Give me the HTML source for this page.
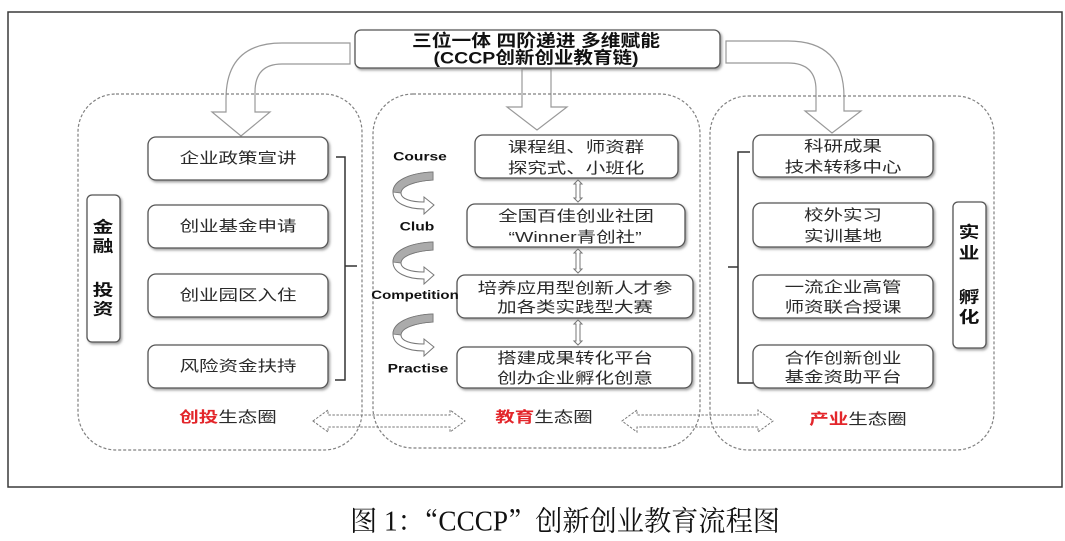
<!DOCTYPE html>
<html>
<head>
<meta charset="utf-8">
<style>
html,body{margin:0;padding:0;background:#fff;}
body{width:1065px;height:541px;overflow:hidden;}
svg{display:block;}
.t{font-family:"Liberation Sans","Noto Sans CJK SC",sans-serif;font-size:15px;fill:#2a2a2a;}
.b{font-family:"Liberation Sans","Noto Sans CJK SC",sans-serif;font-weight:700;fill:#111;}
.en{font-family:"Liberation Sans",sans-serif;font-weight:700;font-size:12px;fill:#111;}
</style>
</head>
<body>
<svg width="1065" height="541" viewBox="0 0 1065 541" xmlns="http://www.w3.org/2000/svg">
<defs>
<filter id="sh" x="-10%" y="-20%" width="130%" height="150%">
<feDropShadow dx="1.5" dy="1.8" stdDeviation="1.2" flood-color="#888" flood-opacity="0.8"/>
</filter>
</defs>

<!-- outer frame -->
<rect x="8" y="12" width="1054" height="475" fill="#fff" stroke="#3a3a3a" stroke-width="1.5"/>

<!-- big hollow arrows from top box -->
<g fill="#fff" stroke="#999" stroke-width="1.2">
<path d="M350,43 L282,43 Q226,43 226,99 L226,112 L212,112 L241,136 L270,112 L255,112 L255,92 Q255,64 282,64 L350,64 Z"/>
<path d="M726,41 L788,41 Q844,41 844,97 L844,111 L861,111 L832,133 L805,111 L816,111 L816,90 Q816,63 788,63 L726,63 Z"/>
<path d="M522,69 L522,107 L507,107 L537,130 L567,107 L551,107 L551,69 Z"/>
</g>

<!-- dashed panels -->
<g fill="none" stroke="#808080" stroke-width="1.2" stroke-dasharray="3,2">
<rect x="78" y="94" width="284" height="356" rx="38"/>
<rect x="373" y="94" width="327" height="354" rx="40"/>
<rect x="710" y="96" width="284" height="354" rx="38"/>
</g>

<!-- top box -->
<rect x="355" y="30" width="365" height="38" rx="6" fill="#fff" stroke="#555" stroke-width="1.3" filter="url(#sh)"/>
<text class="b" x="536" y="41" font-size="17" text-anchor="middle" dominant-baseline="central" textLength="248" lengthAdjust="spacingAndGlyphs">三位一体 四阶递进 多维赋能</text>
<text class="b" x="536" y="58" font-size="17" text-anchor="middle" dominant-baseline="central" textLength="205" lengthAdjust="spacingAndGlyphs">(CCCP创新创业教育链)</text>

<!-- left boxes -->
<g fill="#fff" stroke="#555" stroke-width="1.3" filter="url(#sh)">
<rect x="148" y="137" width="180" height="43" rx="8"/>
<rect x="148" y="205" width="180" height="43" rx="8"/>
<rect x="148" y="274" width="180" height="43" rx="8"/>
<rect x="148" y="345" width="180" height="43" rx="8"/>
</g>
<g class="t" text-anchor="middle" dominant-baseline="central">
<text transform="translate(238,158) scale(1.3,1)">企业政策宣讲</text>
<text transform="translate(238,226) scale(1.3,1)">创业基金申请</text>
<text transform="translate(238,295) scale(1.3,1)">创业园区入住</text>
<text transform="translate(238,366) scale(1.3,1)">风险资金扶持</text>
</g>

<!-- left side label -->
<rect x="87" y="195" width="33" height="147" rx="5" fill="#fff" stroke="#555" stroke-width="1.3" filter="url(#sh)"/>
<g class="b" font-size="16" text-anchor="middle" dominant-baseline="central">
<text transform="translate(103,227) scale(1.3,1)">金</text>
<text transform="translate(103,246) scale(1.3,1)">融</text>
<text transform="translate(103,290) scale(1.3,1)">投</text>
<text transform="translate(103,309) scale(1.3,1)">资</text>
</g>

<!-- left bracket -->
<path d="M336,157 L345,157 L345,380 L335,380 M345,266 L357,266" fill="none" stroke="#333" stroke-width="1.5"/>

<!-- middle boxes -->
<g fill="#fff" stroke="#555" stroke-width="1.3" filter="url(#sh)">
<rect x="475" y="135" width="203" height="43" rx="8"/>
<rect x="467" y="204" width="218" height="43" rx="8"/>
<rect x="457" y="275" width="236" height="43" rx="8"/>
<rect x="457" y="347" width="235" height="41" rx="8"/>
</g>
<g class="t" text-anchor="middle" dominant-baseline="central">
<text transform="translate(576,147) scale(1.3,1)">课程组、师资群</text>
<text transform="translate(576,168) scale(1.3,1)">探究式、小班化</text>
<text transform="translate(576,216) scale(1.3,1)">全国百佳创业社团</text>
<text transform="translate(575,237) scale(1.3,1)">“Winner青创社”</text>
<text transform="translate(575,288) scale(1.3,1)">培养应用型创新人才参</text>
<text transform="translate(575,307) scale(1.3,1)">加各类实践型大赛</text>
<text transform="translate(575,358) scale(1.3,1)">搭建成果转化平台</text>
<text transform="translate(575,378) scale(1.3,1)">创办企业孵化创意</text>
</g>

<!-- small vertical double arrows -->
<g fill="#fff" stroke="#777" stroke-width="1">
<path d="M578,180 L582,184 L580,184 L580,198 L582,198 L578,202 L574,198 L576,198 L576,184 L574,184 Z"/>
<path d="M578,249 L582,253 L580,253 L580,269 L582,269 L578,273 L574,269 L576,269 L576,253 L574,253 Z"/>
<path d="M578,320 L582,324 L580,324 L580,341 L582,341 L578,345 L574,341 L576,341 L576,324 L574,324 Z"/>
</g>

<!-- course labels -->
<g class="en" text-anchor="middle" dominant-baseline="central">
<text transform="translate(420,156) scale(1.3,1)">Course</text>
<text transform="translate(417,226) scale(1.3,1)">Club</text>
<text transform="translate(415,295) scale(1.25,1)">Competition</text>
<text transform="translate(418,368) scale(1.3,1)">Practise</text>
</g>

<!-- curved arrows -->
<g id="ca1" transform="translate(393,172)">
<path d="M40,0 C16,1 0,9 0,20 C0,31 14,37 31,37 L31,42 L41,33 L31,25 L31,30 C18,30 8,27 8,21 C8,14 22,9 40,8 Z" fill="#fff" stroke="#777" stroke-width="1"/>
<path d="M40,0 C16,1 0,9 0,20 L8,21 C8,14 22,9 40,8 Z" fill="#ababab" stroke="#777" stroke-width="0.8"/>
</g>
<g transform="translate(393,242)">
<path d="M40,0 C16,1 0,9 0,20 C0,31 14,37 31,37 L31,42 L41,33 L31,25 L31,30 C18,30 8,27 8,21 C8,14 22,9 40,8 Z" fill="#fff" stroke="#777" stroke-width="1"/>
<path d="M40,0 C16,1 0,9 0,20 L8,21 C8,14 22,9 40,8 Z" fill="#ababab" stroke="#777" stroke-width="0.8"/>
</g>
<g transform="translate(393,314)">
<path d="M40,0 C16,1 0,9 0,20 C0,31 14,37 31,37 L31,42 L41,33 L31,25 L31,30 C18,30 8,27 8,21 C8,14 22,9 40,8 Z" fill="#fff" stroke="#777" stroke-width="1"/>
<path d="M40,0 C16,1 0,9 0,20 L8,21 C8,14 22,9 40,8 Z" fill="#ababab" stroke="#777" stroke-width="0.8"/>
</g>

<!-- right boxes -->
<g fill="#fff" stroke="#555" stroke-width="1.3" filter="url(#sh)">
<rect x="753" y="135" width="180" height="42" rx="8"/>
<rect x="753" y="203" width="180" height="44" rx="8"/>
<rect x="753" y="275" width="180" height="43" rx="8"/>
<rect x="753" y="345" width="180" height="43" rx="8"/>
</g>
<g class="t" text-anchor="middle" dominant-baseline="central">
<text transform="translate(843,146) scale(1.3,1)">科研成果</text>
<text transform="translate(843,167) scale(1.3,1)">技术转移中心</text>
<text transform="translate(843,215) scale(1.3,1)">校外实习</text>
<text transform="translate(843,236) scale(1.3,1)">实训基地</text>
<text transform="translate(843,287) scale(1.3,1)">一流企业高管</text>
<text transform="translate(843,307) scale(1.3,1)">师资联合授课</text>
<text transform="translate(843,358) scale(1.3,1)">合作创新创业</text>
<text transform="translate(843,377) scale(1.3,1)">基金资助平台</text>
</g>

<!-- right bracket -->
<path d="M750,152 L738,152 L738,383 L753,383 M738,267 L728,267" fill="none" stroke="#333" stroke-width="1.5"/>

<!-- right side label -->
<rect x="953" y="202" width="33" height="146" rx="5" fill="#fff" stroke="#555" stroke-width="1.3" filter="url(#sh)"/>
<g class="b" font-size="16" text-anchor="middle" dominant-baseline="central">
<text transform="translate(969,232) scale(1.3,1)">实</text>
<text transform="translate(969,253) scale(1.3,1)">业</text>
<text transform="translate(969,297) scale(1.3,1)">孵</text>
<text transform="translate(969,317) scale(1.3,1)">化</text>
</g>

<!-- horizontal double arrows -->
<g fill="none" stroke="#777" stroke-width="1" stroke-dasharray="2.5,1.5">
<path d="M313,421 L328,410 L328,415 L450,415 L450,410 L465,421 L450,432 L450,427 L328,427 L328,432 Z"/>
<path d="M622,421 L637,410 L637,415 L758,415 L758,410 L773,421 L758,432 L758,427 L637,427 L637,432 Z"/>
</g>

<!-- ecosystem labels -->
<g font-family="Liberation Sans, Noto Sans CJK SC, sans-serif" font-size="15" text-anchor="middle" dominant-baseline="central">
<text transform="translate(228,417) scale(1.3,1)"><tspan fill="#e3262b" font-weight="700">创投</tspan><tspan fill="#2a2a2a">生态圈</tspan></text>
<text transform="translate(544,417) scale(1.3,1)"><tspan fill="#e3262b" font-weight="700">教育</tspan><tspan fill="#2a2a2a">生态圈</tspan></text>
<text transform="translate(858,419) scale(1.3,1)"><tspan fill="#e3262b" font-weight="700">产业</tspan><tspan fill="#2a2a2a">生态圈</tspan></text>
</g>

<!-- caption -->
<text x="350" y="522" font-family="Liberation Serif, Noto Serif CJK SC, serif" font-size="28" fill="#111" dominant-baseline="central" textLength="430" lengthAdjust="spacingAndGlyphs">图 1：<tspan font-family="Noto Serif CJK SC, serif">“</tspan>CCCP<tspan font-family="Noto Serif CJK SC, serif">”</tspan>创新创业教育流程图</text>
</svg>
</body>
</html>
